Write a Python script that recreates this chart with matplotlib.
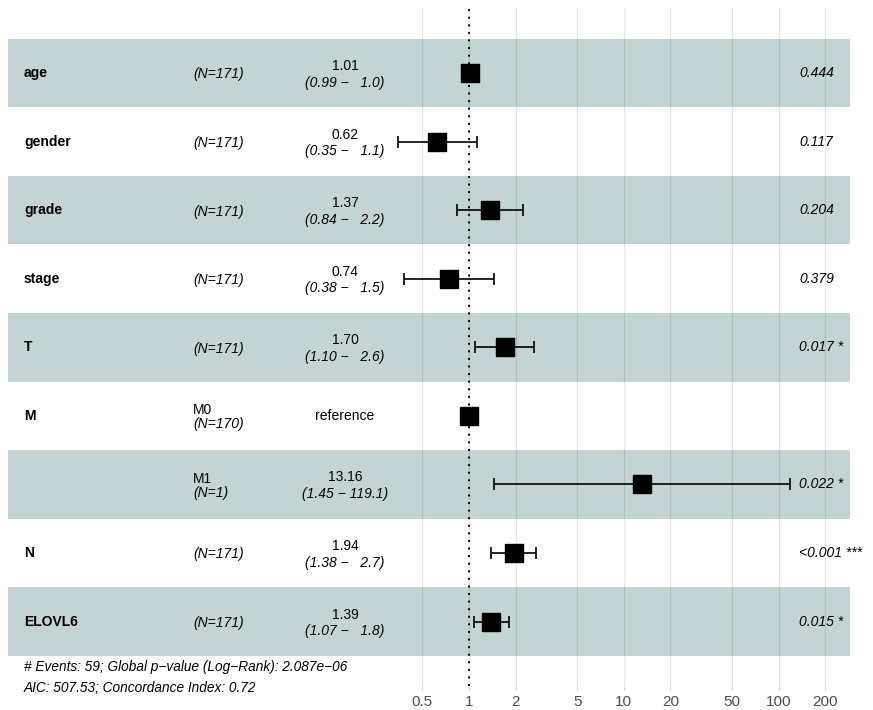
import numpy as np
import matplotlib
matplotlib.use("Agg")
import matplotlib.pyplot as plt
from matplotlib.transforms import blended_transform_factory
from matplotlib import font_manager

plt.rcParams['font.family'] = ['Liberation Sans', 'DejaVu Sans']

# ====================================================
# DATA
# ====================================================

variables = ["age", "gender", "grade", "stage", "T", "M", "", "N", "ELOVL6"]
levels = ["", "", "", "", "", "M0", "M1", "", ""]
n_obs = [171, 171, 171, 171, 171, 170, 1, 171, 171]
hr = [1.01, 0.62, 1.37, 0.74, 1.70, 1.00, 13.16, 1.94, 1.39]
ci_low = [0.99, 0.35, 0.84, 0.38, 1.10, np.nan, 1.45, 1.38, 1.07]
ci_high = [1.02, 1.12, 2.24, 1.46, 2.64, np.nan, 119.1, 2.72, 1.80]
p_labels = ["0.444", "0.117", "0.204", "0.379", "0.017 *", "",
            "0.022 *", "<0.001 ***", "0.015 *"]

footer = ["# Events: 59; Global p\u2212value (Log\u2212Rank): 2.087e\u221206",
          "AIC: 507.53; Concordance Index: 0.72"]

breaks = [0.5, 1, 2, 5, 10, 20, 50, 100, 200]

# ====================================================
# LAYOUT
# ====================================================

W, H = 873, 710
PX_DEC = 154.8     # pixels per decade
X_ONE = 469        # pixel of HR = 1

fig = plt.figure(figsize=(W / 100, H / 100), dpi=100)
ax = fig.add_axes([0, 1 - 686 / H, 1, (686 - 7) / H])

ax.set_xlim(-X_ONE / PX_DEC, (W - X_ONE) / PX_DEC)
ax.set_ylim(8.94, -0.963)

n = len(variables)
rows = np.arange(n)

band_left = (8 - X_ONE) / PX_DEC
band_right = (850 - X_ONE) / PX_DEC
for i in rows:
    if i % 2 == 0:
        ax.fill_between([band_left, band_right], i - 0.5, i + 0.5,
                        color="#C4D3D3", lw=0, zorder=1)

# grid
ax.vlines(np.log10(breaks), -0.963, 8.94, color="black", alpha=0.10,
          lw=0.9, zorder=2)
ax.axvline(0, color="black", lw=1.4, ls=(0, (1, 2.9)), zorder=3)

# estimates
loghr = np.log10(hr)
xlo = loghr - np.log10(ci_low)
xhi = np.log10(ci_high) - loghr
ax.errorbar(loghr, rows, xerr=[xlo, xhi], fmt="none", ecolor="black",
            elinewidth=1.2, capsize=4, capthick=1.2, zorder=4)
ax.plot(loghr, rows, "s", color="black", ms=12.5, zorder=5)

# text columns
tr = blended_transform_factory(ax.transAxes, ax.transData)
fs = 10
for i in rows:
    ax.text(24 / W, i, variables[i], transform=tr, fontsize=fs,
            fontweight="bold", ha="left", va="center")
    if levels[i]:
        ax.text(193 / W, i + 0.02, levels[i], transform=tr, fontsize=fs,
                ha="left", va="bottom")
        ax.text(193 / W, i + 0.02, "(N=%d)" % n_obs[i], transform=tr,
                fontsize=fs, style="italic", ha="left", va="top")
    else:
        ax.text(193 / W, i + 0.02, "(N=%d)" % n_obs[i], transform=tr,
                fontsize=fs, style="italic", ha="left", va="center")
    if np.isnan(ci_low[i]):
        ax.text(345 / W, i, "reference", transform=tr, fontsize=fs,
                ha="center", va="center")
    else:
        ax.text(345 / W, i, "%.2f" % hr[i], transform=tr, fontsize=fs,
                ha="center", va="bottom")
        ci = "(%.2f \u2212 %5s)" % (ci_low[i], "%.1f" % ci_high[i])
        ax.text(345 / W, i + 0.04, ci, transform=tr, fontsize=fs,
                style="italic", ha="center", va="top")
    ax.text(799 / W, i, p_labels[i], transform=tr, fontsize=fs,
            style="italic", ha="left", va="center")

# footer
ax.text(24 / W, 8.67, footer[0], transform=tr, fontsize=9.8,
        style="italic", ha="left", va="center", clip_on=False)
ax.text(24 / W, 8.965, footer[1], transform=tr, fontsize=9.8,
        style="italic", ha="left", va="center", clip_on=False)

# axis
names = {f.name for f in font_manager.fontManager.ttflist}
tick_family = "Liberation Sans Narrow" if "Liberation Sans Narrow" in names else "Liberation Sans"

ax.set_xticks(np.log10(breaks))
ax.set_xticklabels([("%g" % b) for b in breaks], family=tick_family)
ax.tick_params(axis="x", length=3, width=0.8, color="#cccccc",
               labelcolor="#4D4D4D", labelsize=11, pad=3.5)
ax.set_yticks([])
for s in ax.spines.values():
    s.set_visible(False)

fig.savefig("out.png", dpi=100)
